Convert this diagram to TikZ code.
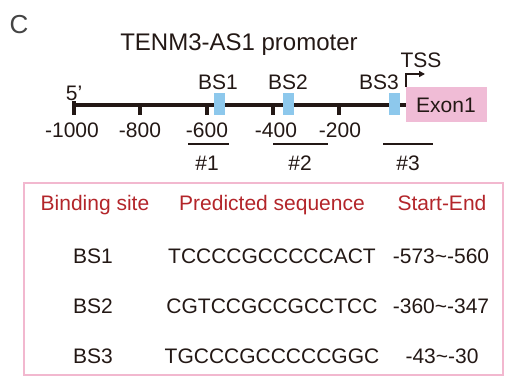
\documentclass[tikz,border=0pt]{standalone}
\usepackage{fontspec}
\setmainfont{Liberation Sans}
\usetikzlibrary{arrows.meta}
\definecolor{dark}{HTML}{231815}
\definecolor{bsblue}{HTML}{8DC8EC}
\definecolor{exonpink}{HTML}{F0BCD6}
\definecolor{framepink}{HTML}{F2B8CF}
\definecolor{headred}{HTML}{B3252A}
\definecolor{clabel}{HTML}{444444}
\tikzset{
  txt/.style={inner sep=0pt, anchor=base, font=\fontsize{21}{25}\selectfont, text=dark},
  head/.style={txt, text=headred},
  bsbox/.style={fill=bsblue, draw=none, minimum width=11pt, minimum height=22pt, inner sep=0pt},
  tick/.style={draw=dark, line width=4pt},
  under/.style={draw=dark, line width=2pt},
}
\begin{document}
\begin{tikzpicture}[x=1pt,y=-1pt]
\useasboundingbox (0,0) rectangle (511,388);
% panel label and title
\node[txt, font=\fontsize{26}{30}\selectfont, text=clabel] (C) at (19,33) {C};
\node[txt, font=\fontsize{24}{28}\selectfont] (title) at (239,50) {TENM3-AS1 promoter};
% main line
\coordinate (lstart) at (72,105);
\coordinate (lend) at (406,105);
\draw[draw=dark, line width=4pt] (lstart) -- (lend);
\coordinate (e0) at (74,101);
\coordinate (e1) at (74,115);
\draw[tick] (e0) -- (e1);
\foreach \x/\n in {140/t8,207/t6,273/t4,339/t2}{
  \coordinate (\n a) at (\x,105);
  \coordinate (\n b) at (\x,115);
  \draw[tick] (\n a) -- (\n b);
}
% tick labels
\node[txt] (l10) at (72,137) {-1000};
\node[txt] (l8) at (140,137) {-800};
\node[txt] (l6) at (207,137) {-600};
\node[txt] (l4) at (276,137) {-400};
\node[txt] (l2) at (340,137) {-200};
\node[txt] (five) at (74,100) {5’};
% binding sites
\node[bsbox] (bs1) at (219.5,104) {};
\node[bsbox] (bs2) at (288,104) {};
\node[bsbox] (bs3) at (394,104) {};
\node[txt] (bs1l) at (218,89) {BS1};
\node[txt] (bs2l) at (288,89) {BS2};
\node[txt] (bs3l) at (379,89) {BS3};
% exon
\node[fill=exonpink, draw=none, minimum width=81pt, minimum height=35pt, inner sep=0pt] (exon) at (446.5,104.5) {};
\node[txt] (exonl) at (446,112) {Exon1};
% TSS
\coordinate (tss0) at (406,87);
\coordinate (tss1) at (406,74);
\coordinate (tss2) at (425,74);
\draw[draw=dark, line width=1.5pt, -{Triangle[length=6pt,width=6pt]}] (tss0) -- (tss1) -- (tss2);
\node[txt] (tssl) at (421,67) {TSS};
% amplicons
\coordinate (u1a) at (188,144); \coordinate (u1b) at (229,144);
\coordinate (u2a) at (273,144); \coordinate (u2b) at (328,144);
\coordinate (u3a) at (383,144); \coordinate (u3b) at (433,144);
\draw[under] (u1a) -- (u1b);
\draw[under] (u2a) -- (u2b);
\draw[under] (u3a) -- (u3b);
\node[txt] (n1) at (207,170) {\#1};
\node[txt] (n2) at (300,170) {\#2};
\node[txt] (n3) at (408,170) {\#3};
% table
\node[draw=framepink, line width=2pt, minimum width=479pt, minimum height=192pt, inner sep=0pt] (frame) at (263.5,279) {};
\node[head] (h1) at (95,210) {Binding site};
\node[head] (h2) at (272,210) {Predicted sequence};
\node[head] (h3) at (442,210) {Start-End};
\node[txt] (r1a) at (93,263) {BS1};
\node[txt] (r1b) at (272,263) {TCCCCGCCCCCACT};
\node[txt] (r1c) at (441,263) {-573\textasciitilde{}-560};
\node[txt] (r2a) at (93,313) {BS2};
\node[txt] (r2b) at (272,313) {CGTCCGCCGCCTCC};
\node[txt] (r2c) at (441,313) {-360\textasciitilde{}-347};
\node[txt] (r3a) at (93,363) {BS3};
\node[txt] (r3b) at (272,363) {TGCCCGCCCCCGGC};
\node[txt] (r3c) at (442,363) {-43\textasciitilde{}-30};
\end{tikzpicture}
\end{document}
